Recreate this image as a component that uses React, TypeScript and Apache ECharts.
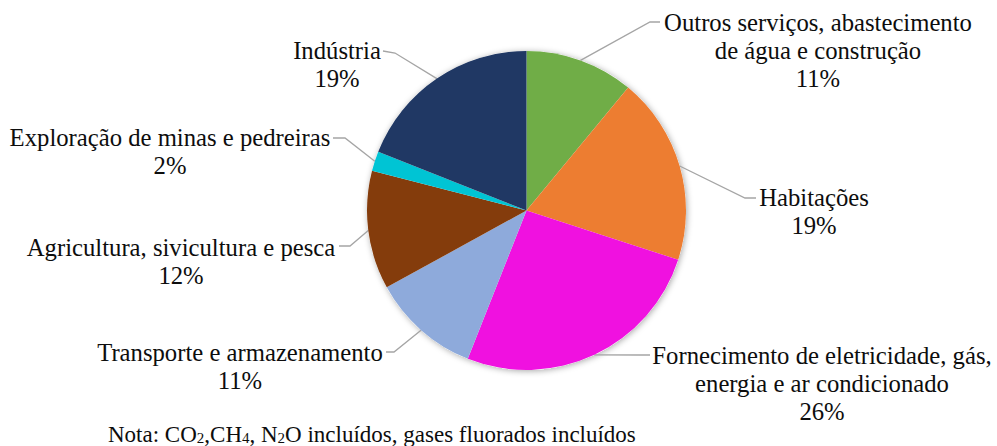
import React, { useEffect, useRef } from "react";
import * as echarts from "echarts";

const categories = [
  "Outros serviços, abastecimento\nde água e construção",
  "Habitações",
  "Fornecimento de eletricidade, gás,\nenergia e ar condicionado",
  "Transporte e armazenamento",
  "Agricultura, sivicultura e pesca",
  "Exploração de minas e pedreiras",
  "Indústria",
];
const values = [11, 19, 26, 11, 12, 2, 19];
const colors = ["#70AD47", "#ED7D31", "#F011E0", "#8EAADB", "#843C0C", "#00C4D4", "#203864"];
const noteParts = ["Nota: CO", "2", ",CH", "4", ", N", "2", "O incluídos, gases fluorados incluídos"];

const SERIF = "'Liberation Serif', 'Times New Roman', serif";

// label placement (layout only): text block top-centre, line bend, line end
const labelPlacement = [
  { x: 818, y: 8, bend: [650, 22], end: [660, 22] },
  { x: 814, y: 183, bend: [745, 198], end: [756, 198] },
  { x: 822, y: 341, bend: [640, 355], end: [650, 355] },
  { x: 240, y: 338, bend: [394, 352], end: [386, 352] },
  { x: 181, y: 233, bend: [350, 246], end: [339, 246] },
  { x: 170, y: 123, bend: [345, 138], end: [333, 138] },
  { x: 337, y: 36, bend: [395, 53], end: [383, 51] },
];

export default function App() {
  const ref = useRef<HTMLDivElement>(null);
  useEffect(() => {
    if (!ref.current) return;
    const chart = echarts.init(ref.current, null, { renderer: "svg" });
    const total = values.reduce((a, b) => a + b, 0);
    const noteText = noteParts
      .map((p, i) => (i % 2 === 1 ? `{s|${p}}` : `{n|${p}}`))
      .join("");
    chart.setOption({
      animation: false,
      backgroundColor: "#ffffff",
      textStyle: { fontFamily: SERIF },
      series: [
        {
          type: "pie",
          silent: true,
          center: [526.5, 210.5],
          radius: 159.5,
          z: 1,
          label: { show: false },
          labelLine: { show: false },
          itemStyle: {
            color: "#ffffff",
            shadowBlur: 6,
            shadowColor: "rgba(0,0,0,0.35)",
            shadowOffsetX: 1,
            shadowOffsetY: 1,
          },
          data: [{ value: total, name: "" }],
        },
        {
          type: "pie",
          center: [526.5, 210.5],
          radius: 159.5,
          z: 2,
          startAngle: 90,
          clockwise: true,
          avoidLabelOverlap: false,
          itemStyle: { borderWidth: 0 },
          label: {
            show: true,
            position: "outside",
            formatter: (p: any) => `${p.name}\n${p.value}%`,
            fontFamily: SERIF,
            fontSize: 24.7,
            lineHeight: 28,
            color: "#0d0d0d",
            align: "center",
          },
          labelLine: {
            show: true,
            smooth: false,
            lineStyle: { color: "#a5a5a5", width: 1.3 },
          },
          labelLayout: (params: any) => {
            const L = labelPlacement[params.dataIndex];
            const pts = params.labelLinePoints;
            const res: any = {
              x: L.x,
              y: L.y,
              align: "center",
              verticalAlign: "top",
              hideOverlap: false,
            };
            if (pts && pts[0]) res.labelLinePoints = [pts[0], L.bend, L.end];
            return res;
          },
          data: categories.map((c, i) => ({
            name: c,
            value: values[i],
            itemStyle: { color: colors[i] },
          })),
        },
      ],
      graphic: [
        {
          type: "text",
          left: 108,
          top: 423,
          style: {
            text: noteText,
            fill: "#0d0d0d",
            rich: {
              n: { fontFamily: SERIF, fontSize: 23, lineHeight: 22, fill: "#0d0d0d" },
              s: { fontFamily: SERIF, fontSize: 15, lineHeight: 8, verticalAlign: "bottom", fill: "#0d0d0d" },
            },
          },
        },
      ],
    });
    return () => chart.dispose();
  }, []);
  return (
    <div
      ref={ref}
      style={{ position: "absolute", left: 0, top: 0, width: 997, height: 446, background: "#fff" }}
    />
  );
}
